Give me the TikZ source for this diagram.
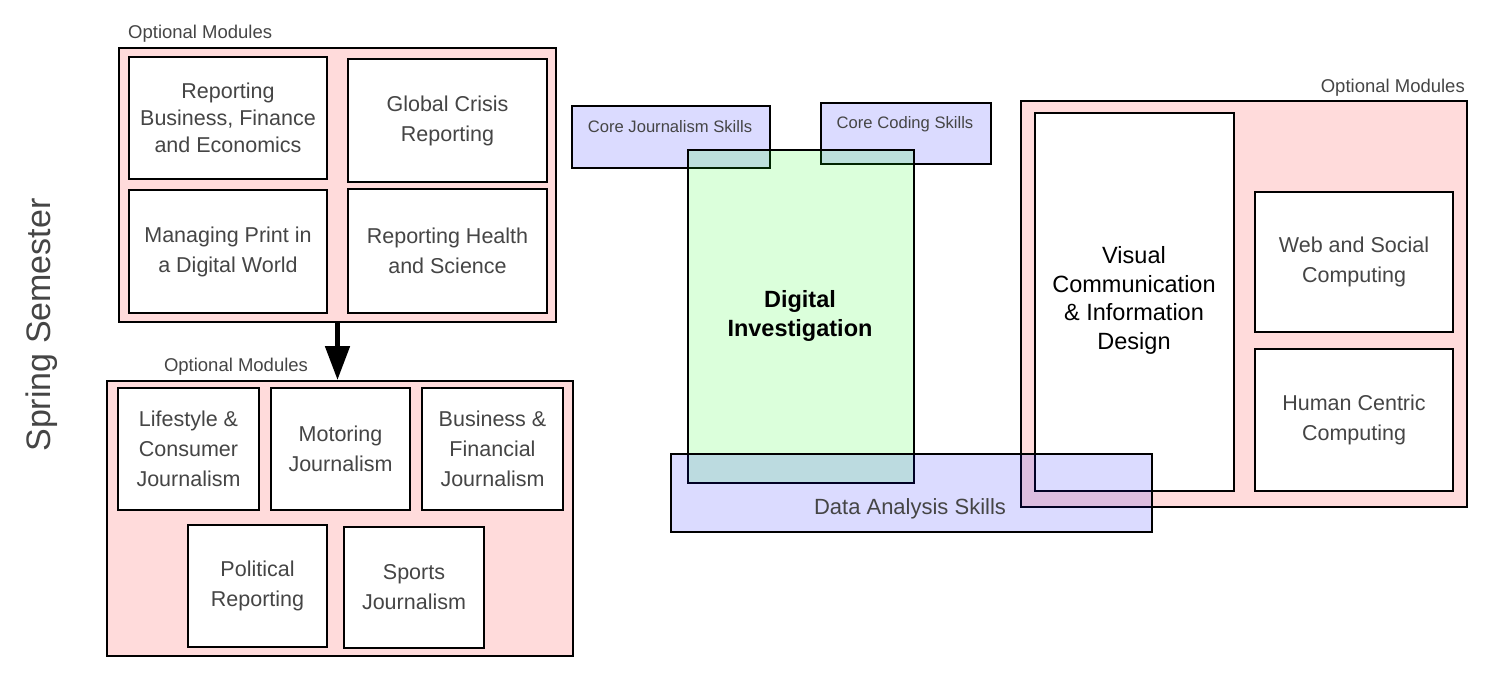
\documentclass[tikz,border=0pt]{standalone}
\usepackage{fontspec}
\setmainfont{Liberation Sans}
\usetikzlibrary{arrows.meta,calc}
\definecolor{txt}{HTML}{454545}
\tikzset{
  grp/.style={draw=black, line width=2pt, fill=red, fill opacity=0.14, text opacity=1, inner sep=0pt},
  skill/.style={draw=black, line width=2pt, fill=blue, fill opacity=0.14, text opacity=1, inner sep=0pt},
  core/.style={draw=black, line width=2pt, fill=green, fill opacity=0.14, text opacity=1, inner sep=0pt},
  modbox/.style={draw=black, line width=2pt, fill=white, inner sep=0pt, align=center, text=txt,
    font=\fontsize{21.5}{30}\selectfont},
  grplabel/.style={text=txt, font=\fontsize{18.5}{20}\selectfont, inner sep=0pt},
  skilllabel/.style={text=txt, font=\fontsize{16.6}{20}\selectfont, inner sep=0pt},
  boldtxt/.style={text=black, font=\fontsize{23.5}{28.5}\selectfont\bfseries, align=center, inner sep=0pt},
  bigarrow/.style={line width=5pt, -{Triangle[width=24pt,length=34pt]}}
}
\begin{document}
\begin{tikzpicture}[x=1pt,y=-1pt]
\useasboundingbox (0,0) rectangle (1488,678);

% Spring semester
\node[rotate=90, text=txt, font=\fontsize{34}{38}\selectfont, inner sep=0pt] (sem) at (42,325) {Spring Semester};

% Top-left group
\node[grp, minimum width=437pt, minimum height=274pt] (topgrp) at (337.5,185) {};
\node[grplabel, anchor=west] (toplab) at (128,34) {Optional Modules};
\node[modbox, minimum width=198pt, minimum height=122pt, font=\fontsize{21.5}{27}\selectfont] (rbf) at (228,118) {Reporting\\Business, Finance\\and Economics};
\node[modbox, minimum width=199pt, minimum height=123pt] (gcr) at (447.5,120.5) {Global Crisis\\Reporting};
\node[modbox, minimum width=198pt, minimum height=123pt] (mpd) at (228,251.5) {Managing Print in\\a Digital World};
\node[modbox, minimum width=199pt, minimum height=124pt] (rhs) at (447.5,251) {Reporting Health\\and Science};

% Bottom-left group
\node[grp, minimum width=466pt, minimum height=275pt] (botgrp) at (340,518.5) {};
\node[grplabel] (botlab) at (236,367) {Optional Modules};
\node[modbox, minimum width=141pt, minimum height=122pt] (lcj) at (188.5,449) {Lifestyle \&\\Consumer\\Journalism};
\node[modbox, minimum width=139pt, minimum height=122pt] (mj) at (340.5,449) {Motoring\\Journalism};
\node[modbox, minimum width=141pt, minimum height=122pt] (bfj) at (492.5,449) {Business \&\\Financial\\Journalism};
\node[modbox, minimum width=139pt, minimum height=122pt] (pr) at (257.5,586) {Political\\Reporting};
\node[modbox, minimum width=140pt, minimum height=121pt] (sj) at (414,587.5) {Sports\\Journalism};

% Arrow
\draw[bigarrow] (topgrp.south) -- (topgrp.south |- botgrp.north);

% Core skills
\node[skill, minimum width=198pt, minimum height=62pt] (cjs) at (671,137) {};
\node[skilllabel] (cjslab) at (670,127) {Core Journalism Skills};
\node[skill, minimum width=170pt, minimum height=61pt] (ccs) at (906,133.5) {};
\node[skilllabel] (ccslab) at (905,124) {Core Coding Skills};

% Digital investigation
\node[core, minimum width=226pt, minimum height=333pt] (di) at (801,316.5) {};
\node[boldtxt] (dilab) at (800,316) {Digital\\Investigation};

% Right group
\node[grp, minimum width=446pt, minimum height=406pt] (rgrp) at (1244,304) {};
\node[grplabel, anchor=east] (rlab) at (1465,88) {Optional Modules};
\node[modbox, minimum width=199pt, minimum height=378pt] (vc) at (1134.5,302) {};
\node[boldtxt, font=\fontsize{23.5}{28.5}\selectfont] (vclab) at (1134,300.5) {Visual\\Communication\\\&{} Information\\Design};
\node[modbox, minimum width=198pt, minimum height=140pt] (wsc) at (1354,262) {Web and Social\\Computing};
\node[modbox, minimum width=198pt, minimum height=142pt] (hcc) at (1354,420) {Human Centric\\Computing};

% Data analysis skills
\node[skill, minimum width=481pt, minimum height=78pt] (das) at (911.5,493) {};
\node[text=txt, font=\fontsize{22}{24}\selectfont, inner sep=0pt] (daslab) at (910,509) {Data Analysis Skills};

\end{tikzpicture}
\end{document}
